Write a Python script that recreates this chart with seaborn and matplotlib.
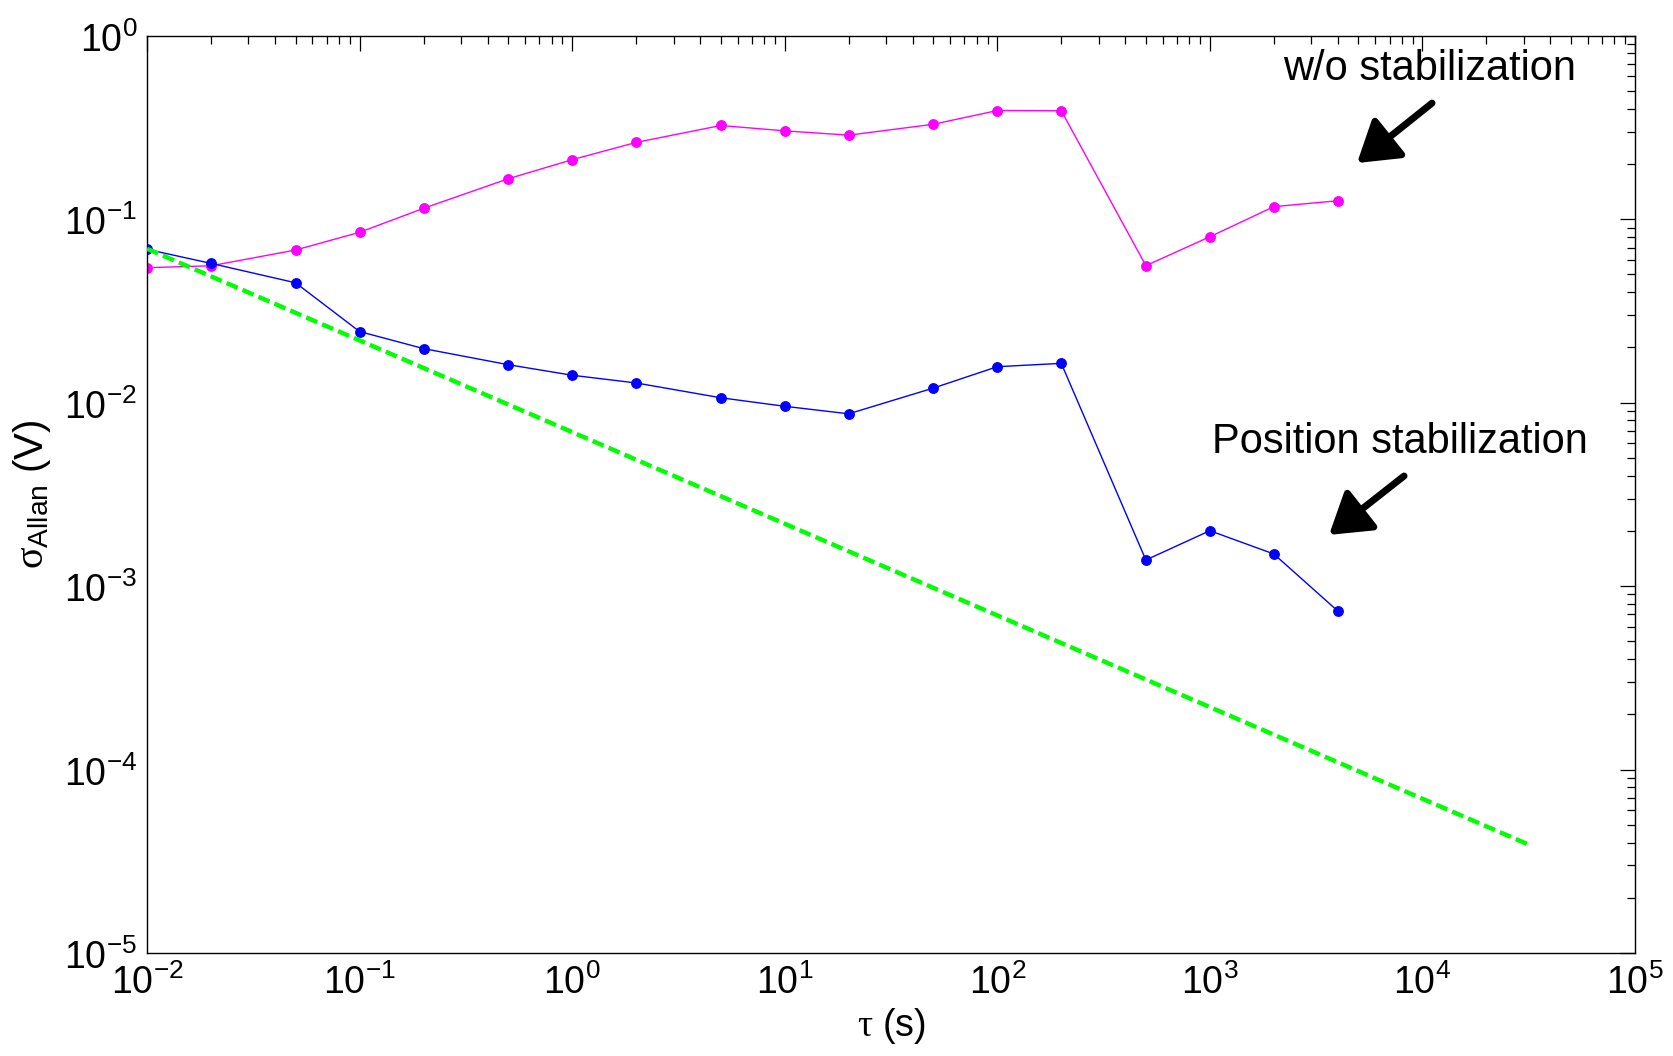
import numpy as np
import pandas as pd
import matplotlib
matplotlib.use("Agg")
import matplotlib.pyplot as plt
import matplotlib.transforms as mtransforms
import seaborn as sns

# ---- data ----
tau = [0.01, 0.02, 0.05, 0.1, 0.2, 0.5, 1, 2, 5, 10, 20, 50, 100, 200, 500, 1000, 2000, 4000]
sigma_wo = [0.0544, 0.0557, 0.0679, 0.0848, 0.1146, 0.166, 0.211, 0.262, 0.324, 0.303,
            0.287, 0.329, 0.391, 0.39, 0.0558, 0.0802, 0.117, 0.126]
sigma_pos = [0.0685, 0.0574, 0.045, 0.0244, 0.0197, 0.0161, 0.0141, 0.0128, 0.01063, 0.00955,
             0.00869, 0.0120, 0.0157, 0.01637, 0.001387, 0.002004, 0.001496, 0.000731]
tau_ref = [0.01, 3.16e4]
sigma_ref = [0.069, 3.9e-5]
series_names = ["w/o stabilization", "Position stabilization"]
series_colors = ["#FF00FF", "#0000FF"]

df = pd.DataFrame({
    "tau": tau * 2,
    "sigma": sigma_wo + sigma_pos,
    "series": [series_names[0]] * len(tau) + [series_names[1]] * len(tau),
})
df_ref = pd.DataFrame({"tau": tau_ref, "sigma": sigma_ref})

sns.set_style("white")
plt.rcParams["font.family"] = ["Liberation Sans", "DejaVu Sans"]
plt.rcParams["mathtext.fontset"] = "custom"
plt.rcParams["mathtext.rm"] = "Liberation Sans"
plt.rcParams["mathtext.sf"] = "Liberation Sans"
plt.rcParams["mathtext.it"] = "Liberation Serif"
plt.rcParams["mathtext.bf"] = "Liberation Sans:bold"
plt.rcParams["text.color"] = "black"
plt.rcParams["axes.labelcolor"] = "black"

fig = plt.figure(figsize=(16.73, 10.56), dpi=100)
ax = fig.add_axes([147 / 1673, 1 - 953 / 1056, (1635 - 147) / 1673, (953 - 35.7) / 1056])

sns.lineplot(data=df, x="tau", y="sigma", hue="series", palette=dict(zip(series_names, series_colors)),
             hue_order=series_names, marker="o", markersize=6.8, markeredgewidth=1.0,
             linewidth=1.0, ax=ax, legend=False, estimator=None, sort=False)
for ln in ax.lines:
    ln.set_markeredgecolor(ln.get_color())
    ln.set_markerfacecolor(ln.get_color())
sns.lineplot(data=df_ref, x="tau", y="sigma", color="#00FF00", linewidth=3.2, ax=ax,
             legend=False, estimator=None, sort=False, dashes=False)
ax.lines[-1].set_dashes([2.7, 1.2])
ax.lines[-1].set_zorder(3)

ax.set_xscale("log")
ax.set_yscale("log")
ax.set_xlim(1e-2, 1e5)
ax.set_ylim(1e-5, 1e0)

ax.set_xticks([10.0 ** k for k in range(-2, 6)])
ax.set_xticklabels([r"$\mathregular{10^{%d}}$" % k for k in range(-2, 6)])
ax.set_yticks([10.0 ** k for k in range(-5, 1)])
ax.set_yticklabels([r"$\mathregular{10^{%d}}$" % k for k in range(-5, 1)])

ax.tick_params(axis="both", which="both", direction="in", top=True, right=True,
               colors="black", labelsize=27)
ax.tick_params(axis="both", which="major", length=10.5, width=0.9)
ax.tick_params(axis="both", which="minor", length=5.5, width=0.9)
ax.tick_params(axis="x", which="major", pad=8)
ax.tick_params(axis="y", which="major", pad=7)

offset = mtransforms.ScaledTranslation(0, -1 / 72, fig.dpi_scale_trans)
for lab in ax.get_yticklabels():
    lab.set_transform(lab.get_transform() + offset)

for sp in ax.spines.values():
    sp.set_color("black")
    sp.set_linewidth(1.0)

ax.set_xlabel(r"$\tau$ (s)", fontsize=27, labelpad=3)
ax.set_ylabel(r"$\sigma_{\mathregular{Allan}}$ (V)", fontsize=29, labelpad=8)

ax.text(0.8622, 0.9517, "w/o stabilization", transform=ax.transAxes, ha="center",
        va="baseline", fontsize=30)
ax.text(0.842, 0.545, "Position stabilization", transform=ax.transAxes, ha="center",
        va="baseline", fontsize=30)

arrow_kw = dict(arrowstyle="-|>,head_length=1.1,head_width=0.7", color="black", lw=5,
                mutation_scale=22, shrinkA=0, shrinkB=0)
ax.annotate("", xy=(0.8132, 0.8612), xytext=(0.8636, 0.9265), xycoords="axes fraction",
            textcoords="axes fraction", arrowprops=arrow_kw)
ax.annotate("", xy=(0.7944, 0.4558), xytext=(0.8448, 0.52), xycoords="axes fraction",
            textcoords="axes fraction", arrowprops=arrow_kw)

fig.savefig("out.png", dpi=100, facecolor="white")
